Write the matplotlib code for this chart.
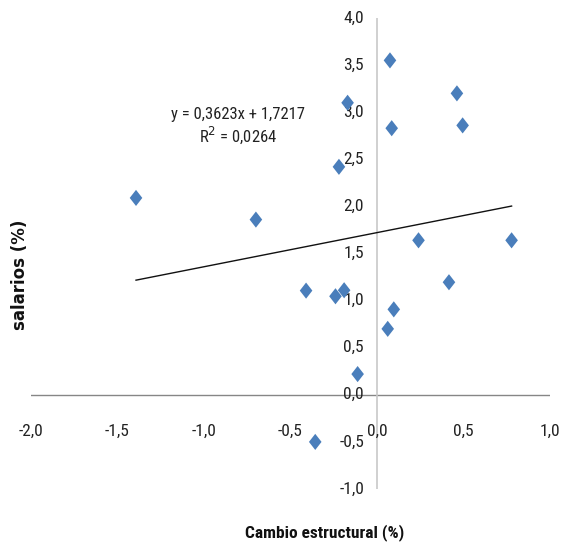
import matplotlib
matplotlib.use("Agg")
import matplotlib.pyplot as plt
from matplotlib import font_manager
from matplotlib.path import Path
import numpy as np

# Data
cambio = [-1.393, -0.70, 0.075, -0.17, 0.085, -0.22, 0.462, 0.495, 0.24, 0.778,
          -0.41, -0.24, -0.19, 0.416, 0.097, 0.062, -0.112, -0.357]
salarios = [2.09, 1.86, 3.55, 3.10, 2.83, 2.42, 3.20, 2.86, 1.64, 1.64,
            1.106, 1.046, 1.11, 1.195, 0.907, 0.70, 0.22, -0.50]
slope, intercept = 0.3623, 1.7217
r2 = 0.0264
x_ticks = [-2.0, -1.5, -1.0, -0.5, 0.0, 0.5, 1.0]
y_ticks = [-1.0, -0.5, 0.0, 0.5, 1.0, 1.5, 2.0, 2.5, 3.0, 3.5, 4.0]

names = {f.name for f in font_manager.fontManager.ttflist}
font = "DejaVu Sans"
for cand in ["Liberation Sans Narrow", "Roboto Condensed", "DejaVu Sans Condensed", "Open Sans Condensed"]:
    if cand in names:
        font = cand
        break
plt.rcParams['font.family'] = [font, 'DejaVu Sans']

def fmt(v):
    return f"{v:.1f}".replace(".", ",")

diamond = Path([(0, 1), (0.78, 0), (0, -1), (-0.78, 0), (0, 1)],
               [Path.MOVETO, Path.LINETO, Path.LINETO, Path.LINETO, Path.CLOSEPOLY])

fig = plt.figure(figsize=(5.66, 5.5), dpi=100)
ax = fig.add_axes([31/566, 61/550, 519/566, 471/550])
ax.set_xlim(-2, 1)
ax.set_ylim(-1, 4)
for s in ax.spines.values():
    s.set_visible(False)
ax.set_xticks([])
ax.set_yticks([])

ax.plot([-2, 1], [0, 0], color="#868686", lw=1.0, zorder=1)
ax.plot([0, 0], [-1, 4], color="#c8c8c8", lw=1.2, zorder=1)

for t in x_ticks:
    ax.text(t, -0.39, fmt(t), ha="center", va="center", fontsize=12.5, color="#222222")
for t in y_ticks:
    ax.text(-0.075, t, fmt(t), ha="right", va="center", fontsize=12.5, color="#222222")

xs = np.array([min(cambio), max(cambio)])
ax.plot(xs, slope * xs + intercept, color="#111111", lw=1.0, zorder=2)

ax.scatter(cambio, salarios, marker=diamond, s=135, color="#4a7ebb", edgecolors="none", zorder=3)

ax.text(-0.805, 2.98, f"y = {slope:.4f}x + {intercept:.4f}".replace(".", ","),
        ha="center", va="center", fontsize=12, color="#222222")
ax.text(-0.805, 2.75, f"R$^2$ = {r2:.4f}".replace(".", ","),
        ha="center", va="center", fontsize=12, color="#222222")

fig.text(20/566, 1 - 275/550, "salarios (%)", rotation=90, ha="center", va="center",
         fontsize=12, fontweight="bold", color="#111111", family="DejaVu Sans")
fig.text(325/566, 1 - 533/550, "Cambio estructural (%)", ha="center", va="center",
         fontsize=12.5, fontweight="bold", color="#111111")

fig.savefig("out.png", dpi=100, facecolor="white")
